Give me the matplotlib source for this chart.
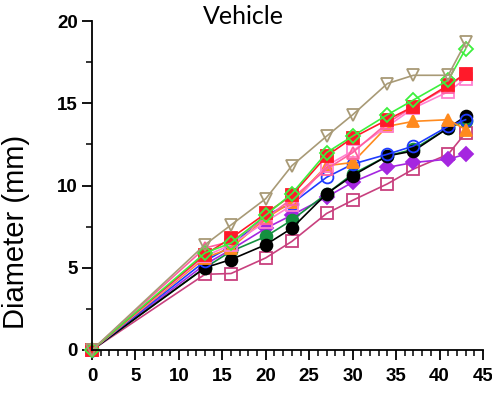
import matplotlib
matplotlib.use("Agg")
import matplotlib.pyplot as plt
from matplotlib.ticker import MultipleLocator

days = [0, 13, 16, 20, 23, 27, 30, 34, 37, 41, 43]

tan_tri = [0, 6.4, 7.6, 9.2, 11.2, 13.0, 14.3, 16.2, 16.7, 16.7, 18.7]
lime_dia = [0, 5.9, 6.5, 8.2, 9.5, 12.0, 13.0, 14.3, 15.2, 16.4, 18.3]
red_sq = [0, 5.8, 6.8, 8.3, 9.4, 11.8, 12.9, 14.0, 14.8, 16.1, 16.8]
pink_tri = [0, 6.2, 6.6, 8.0, 9.2, 11.0, 12.0, 13.8, 14.8, 16.0, 16.8]
lpink_sq = [0, 5.7, 6.4, 7.8, 8.8, 11.2, 12.1, 13.6, 14.7, 15.7, 16.5]
orange_tri = [0, 5.6, 6.2, 8.0, 9.0, 11.2, 11.4, 13.6, 13.9, 14.0, 13.4]
blue_circ = [0, 5.4, 6.3, 8.2, 8.9, 10.5, 11.3, 11.9, 12.4, 13.6, 14.0]
black_circ = [0, 5.0, 5.5, 6.4, 7.4, 9.5, 10.6, 11.8, 12.1, 13.5, 14.2]
green_circ = [0, 5.0, 6.0, 6.9, 7.9, 9.5, 10.7, 11.8, 12.2, 13.5, 13.9]
purple_dia = [0, 5.2, 6.1, 7.4, 8.2, 9.3, 10.2, 11.1, 11.4, 11.6, 11.9]
crimson_sq = [0, 4.6, 4.65, 5.6, 6.6, 8.3, 9.1, 10.1, 11.0, 11.9, 13.2]

x_ticks = [0, 5, 10, 15, 20, 25, 30, 35, 40, 45]
y_ticks = [0, 5, 10, 15, 20]

series = [
    (crimson_sq, "s", "#C8407E", False),
    (purple_dia, "D", "#A526E0", True),
    (green_circ, "o", "#149040", True),
    (black_circ, "o", "#000000", True),
    (blue_circ, "o", "#1F3CFF", False),
    (orange_tri, "^", "#FF8A1E", True),
    (lpink_sq, "s", "#FF80D0", False),
    (pink_tri, "^", "#FF5FA0", False),
    (red_sq, "s", "#FF1A2A", True),
    (lime_dia, "D", "#3DF03D", False),
    (tan_tri, "v", "#A89A76", False),
]

fig = plt.figure(figsize=(4.92, 3.94), dpi=100)
ax = fig.add_axes([92/492, 1-350/394, (483-92)/492, (350-21)/394])

for vals, mk, col, filled in series:
    ms = 7.5 if mk == "D" else 8.5
    ax.plot(days, vals, marker=mk, color=col, lw=1.2, ms=ms,
            mfc=col if filled else "none", mec=col, mew=1.3, clip_on=False)

ax.set_xlim(0, 45)
ax.set_ylim(0, 20)
ax.set_xticks(x_ticks)
ax.set_yticks(y_ticks)
ax.xaxis.set_minor_locator(MultipleLocator(1))
ax.yaxis.set_minor_locator(MultipleLocator(2.5))
for s in ["top", "right"]:
    ax.spines[s].set_visible(False)
for s in ["left", "bottom"]:
    ax.spines[s].set_linewidth(1.3)
ax.tick_params(which="major", length=7, width=1.3, direction="out")
ax.tick_params(which="minor", length=4.5, width=1.1, direction="out")
tick_font = {"family": ["Liberation Sans"], "weight": "bold", "size": 13.5}
ax.set_xticklabels([str(v) for v in x_ticks], fontdict=tick_font)
ax.set_yticklabels([str(v) for v in y_ticks], fontdict=tick_font)
ax.tick_params(axis="x", pad=6)
ax.tick_params(axis="y", pad=3)

fig.text(16/492, 1-232/394, "Diameter (mm)", rotation=90, ha="center", va="center",
         fontsize=21, family=["Liberation Sans"])
fig.text(243/492, 1-16/394, "Vehicle", ha="center", va="center",
         fontsize=18, family=["Lato"])

fig.savefig("out.png", dpi=100)
